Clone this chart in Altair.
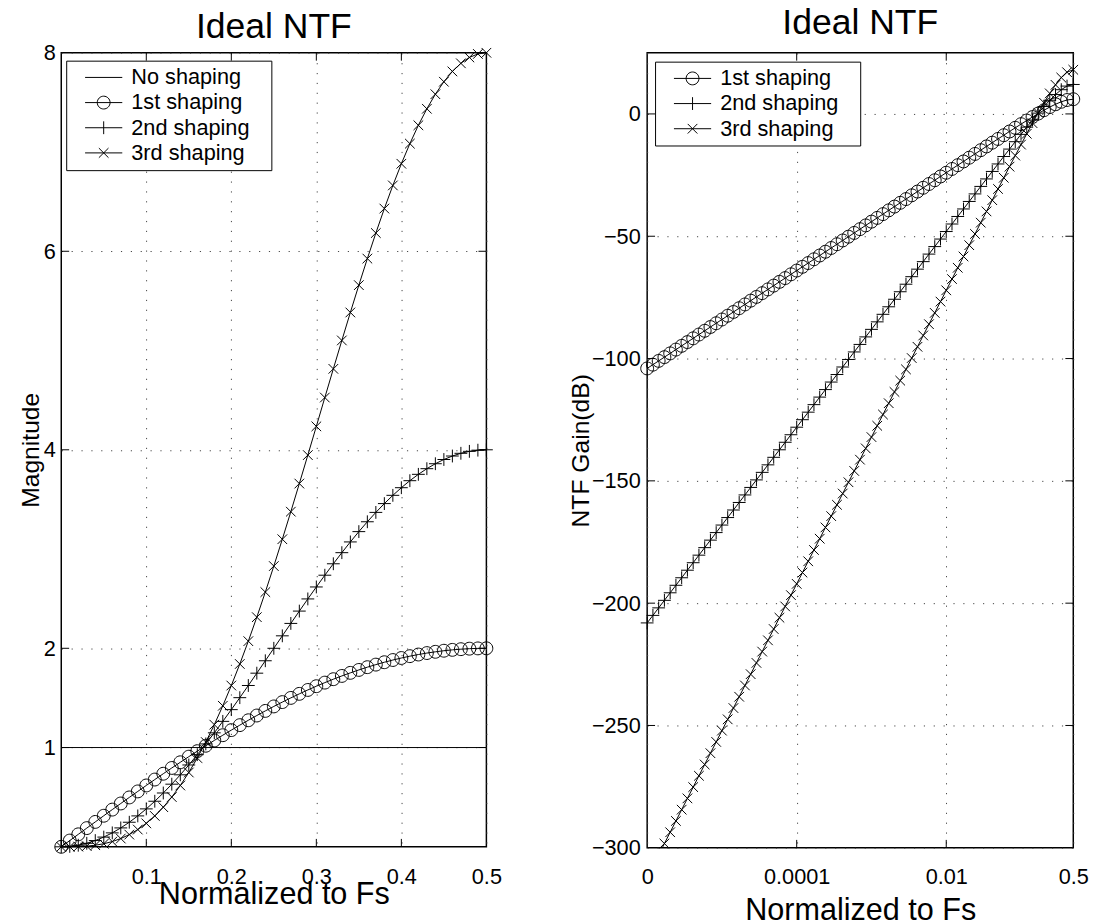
import altair as alt
import pandas as pd

FONT = "Liberation Sans"

SERIES = ["No shaping", "1st shaping", "2nd shaping", "3rd shaping"]

# ---------------- left panel: magnitude vs normalized frequency ----------------
F_LIN = [0.00, 0.01, 0.02, 0.03, 0.04, 0.05, 0.06, 0.07, 0.08, 0.09,
         0.10, 0.11, 0.12, 0.13, 0.14, 0.15, 0.16, 0.17, 0.18, 0.19,
         0.20, 0.21, 0.22, 0.23, 0.24, 0.25, 0.26, 0.27, 0.28, 0.29,
         0.30, 0.31, 0.32, 0.33, 0.34, 0.35, 0.36, 0.37, 0.38, 0.39,
         0.40, 0.41, 0.42, 0.43, 0.44, 0.45, 0.46, 0.47, 0.48, 0.49, 0.50]
NO_SHAPING_F = [0.0, 0.5]
NO_SHAPING = [1.0, 1.0]
MAG1 = [0.0, 0.0628, 0.1256, 0.1882, 0.2507, 0.3129, 0.3748, 0.4363, 0.4974, 0.5580,
        0.6180, 0.6775, 0.7362, 0.7943, 0.8516, 0.9080, 0.9635, 1.0181, 1.0717, 1.1242,
        1.1756, 1.2258, 1.2748, 1.3226, 1.3691, 1.4142, 1.4579, 1.5002, 1.5410, 1.5803,
        1.6180, 1.6542, 1.6887, 1.7215, 1.7526, 1.7820, 1.8097, 1.8355, 1.8596, 1.8818,
        1.9021, 1.9206, 1.9372, 1.9518, 1.9646, 1.9754, 1.9842, 1.9911, 1.9961, 1.9990, 2.0]
MAG2 = [0.0, 0.0039, 0.0158, 0.0354, 0.0628, 0.0979, 0.1404, 0.1903, 0.2474, 0.3113,
        0.3820, 0.4590, 0.5421, 0.6309, 0.7252, 0.8244, 0.9283, 1.0365, 1.1484, 1.2637,
        1.3820, 1.5026, 1.6252, 1.7493, 1.8744, 2.0000, 2.1256, 2.2507, 2.3748, 2.4974,
        2.6180, 2.7363, 2.8516, 2.9635, 3.0717, 3.1756, 3.2748, 3.3691, 3.4579, 3.5410,
        3.6180, 3.6887, 3.7526, 3.8097, 3.8596, 3.9021, 3.9372, 3.9646, 3.9842, 3.9961, 4.0]
MAG3 = [0.0, 0.0002, 0.0020, 0.0067, 0.0158, 0.0306, 0.0526, 0.0830, 0.1231, 0.1737,
        0.2361, 0.3110, 0.3991, 0.5011, 0.6176, 0.7486, 0.8944, 1.0553, 1.2307, 1.4207,
        1.6247, 1.8419, 2.0718, 2.3136, 2.5662, 2.8284, 3.0989, 3.3765, 3.6596, 3.9466,
        4.2360, 4.5264, 4.8155, 5.1017, 5.3835, 5.6589, 5.9264, 6.1840, 6.4303, 6.6635,
        6.8818, 7.0845, 7.2695, 7.4358, 7.5826, 7.7082, 7.8122, 7.8939, 7.9529, 7.9882, 8.0]

MAG_TICKS_X = [0.1, 0.2, 0.3, 0.4, 0.5]
MAG_TICKS_Y = [1, 2, 4, 6, 8]

# ---------------- right panel: gain in dB vs log frequency ----------------
F_LOG = [1.000e-6, 1.194e-6, 1.425e-6, 1.701e-6, 2.031e-6, 2.424e-6, 2.894e-6, 3.455e-6, 4.125e-6, 4.924e-6, 5.878e-6, 7.017e-6, 8.377e-6,
         1.000e-5, 1.194e-5, 1.425e-5, 1.701e-5, 2.031e-5, 2.424e-5, 2.894e-5, 3.455e-5, 4.125e-5, 4.924e-5, 5.878e-5, 7.017e-5, 8.377e-5,
         1.000e-4, 1.194e-4, 1.425e-4, 1.701e-4, 2.031e-4, 2.424e-4, 2.894e-4, 3.455e-4, 4.125e-4, 4.924e-4, 5.878e-4, 7.017e-4, 8.377e-4,
         1.000e-3, 1.194e-3, 1.425e-3, 1.701e-3, 2.031e-3, 2.424e-3, 2.894e-3, 3.455e-3, 4.125e-3, 4.924e-3, 5.878e-3, 7.017e-3, 8.377e-3,
         1.000e-2, 1.194e-2, 1.425e-2, 1.701e-2, 2.031e-2, 2.424e-2, 2.894e-2, 3.455e-2, 4.125e-2, 4.924e-2, 5.878e-2, 7.017e-2, 8.377e-2,
         1.000e-1, 1.194e-1, 1.425e-1, 1.701e-1, 2.031e-1, 2.424e-1, 2.894e-1, 3.455e-1, 4.125e-1,
         5.000e-1]
DB1 = [-104.04, -102.50, -100.96, -99.42, -97.88, -96.34, -94.81, -93.27, -91.73, -90.19, -88.65, -87.11, -85.57,
       -84.04, -82.50, -80.96, -79.42, -77.88, -76.34, -74.81, -73.27, -71.73, -70.19, -68.65, -67.11, -65.57,
       -64.04, -62.50, -60.96, -59.42, -57.88, -56.34, -54.81, -53.27, -51.73, -50.19, -48.65, -47.11, -45.57,
       -44.04, -42.50, -40.96, -39.42, -37.88, -36.34, -34.81, -33.27, -31.73, -30.19, -28.65, -27.11, -25.57,
       -24.04, -22.50, -20.96, -19.43, -17.89, -16.35, -14.82, -13.28, -11.75, -10.22, -8.70, -7.18, -5.67,
       -4.18, -2.70, -1.25, 0.16, 1.52, 2.80, 3.96, 4.96, 5.69,
       6.02]
DB2 = [-208.07, -205.00, -201.92, -198.84, -195.76, -192.69, -189.61, -186.53, -183.46, -180.38, -177.30, -174.23, -171.15,
       -168.07, -165.00, -161.92, -158.84, -155.76, -152.69, -149.61, -146.53, -143.46, -140.38, -137.30, -134.23, -131.15,
       -128.07, -125.00, -121.92, -118.84, -115.76, -112.69, -109.61, -106.53, -103.46, -100.38, -97.30, -94.23, -91.15,
       -88.07, -85.00, -81.92, -78.84, -75.76, -72.69, -69.61, -66.53, -63.46, -60.38, -57.30, -54.23, -51.15,
       -48.08, -45.00, -41.92, -38.85, -35.78, -32.70, -29.63, -26.57, -23.51, -20.45, -17.40, -14.37, -11.35,
       -8.36, -5.41, -2.50, 0.32, 3.04, 5.60, 7.93, 9.91, 11.38,
       12.04]
DB3 = [-312.11, -307.49, -302.88, -298.26, -293.65, -289.03, -284.42, -279.80, -275.19, -270.57, -265.95, -261.34, -256.72,
       -252.11, -247.49, -242.88, -238.26, -233.65, -229.03, -224.42, -219.80, -215.19, -210.57, -205.95, -201.34, -196.72,
       -192.11, -187.49, -182.88, -178.26, -173.65, -169.03, -164.42, -159.80, -155.19, -150.57, -145.95, -141.34, -136.72,
       -132.11, -127.49, -122.88, -118.26, -113.65, -109.03, -104.42, -99.80, -95.19, -90.57, -85.95, -81.34, -76.72,
       -72.11, -67.50, -62.89, -58.27, -53.66, -49.06, -44.45, -39.85, -35.26, -30.67, -26.10, -21.55, -17.02,
       -12.54, -8.11, -3.76, 0.48, 4.56, 8.40, 11.89, 14.86, 17.06,
       18.06]

DB_TICKS_X = [1e-6, 1e-4, 1e-2, 0.5]
DB_TICKS_Y = [-300, -250, -200, -150, -100, -50, 0]

# ---------------- marker / legend symbol paths ----------------
MARK_PATHS = ["M1,0A1,1 0 1,1 -1,0A1,1 0 1,1 1,0Z",
              "M-1,0H1M0,-1V1",
              "M-0.75,-0.75L0.75,0.75M-0.75,0.75L0.75,-0.75"]
LEG_LINE = "M-2.9,0H2.9"
LEG_PATHS = [LEG_LINE,
             LEG_LINE + "M1,0A1,1 0 1,1 -1,0A1,1 0 1,1 1,0",
             LEG_LINE + "M0,-1V1",
             LEG_LINE + "M-0.75,-0.75L0.75,0.75M-0.75,0.75L0.75,-0.75"]

GRID = dict(grid=True, gridColor="#444", gridDash=[1.2, 8.8], gridWidth=1, gridOpacity=1,
            ticks=False, domain=False, labelFlush=False, labelOverlap=False,
            labelFont=FONT, labelFontSize=22, labelColor="black",
            titleFont=FONT, titleFontWeight="normal", titleColor="black")


def legend(lx, ly):
    return alt.Legend(orient="none", legendX=lx, legendY=ly, title=None,
                      fillColor="white", strokeColor="black", padding=6,
                      symbolSize=169, symbolStrokeWidth=1, symbolStrokeColor="black",
                      symbolFillColor="transparent", symbolOpacity=1,
                      symbolOffset=21, labelOffset=17, rowPadding=3.5,
                      labelFont=FONT, labelFontSize=22, labelColor="black",
                      labelLimit=400, labelExpr="datum.label + '\u2800'")


def tick_layers(xs, ys, xscale, yscale, axx, axy, w, h):
    # inward tick marks on all four sides (same scales and axes as the data layers)
    dx = pd.DataFrame({"f": xs})
    dy = pd.DataFrame({"v": ys})
    bx = alt.X("f:Q", scale=xscale, axis=axx)
    by = alt.Y("v:Q", scale=yscale, axis=axy)
    top = alt.Chart(dx).mark_rule(color="black", strokeWidth=1).encode(
        x=bx, y=alt.value(0), y2=alt.value(8))
    bot = alt.Chart(dx).mark_rule(color="black", strokeWidth=1).encode(
        x=bx, y=alt.value(h), y2=alt.value(h - 8))
    lft = alt.Chart(dy).mark_rule(color="black", strokeWidth=1).encode(
        y=by, x=alt.value(0), x2=alt.value(8))
    rgt = alt.Chart(dy).mark_rule(color="black", strokeWidth=1).encode(
        y=by, x=alt.value(w), x2=alt.value(w - 8))
    return [top, bot, lft, rgt]


def title(offset):
    return alt.TitleParams(text="Ideal NTF", font=FONT, fontSize=36, fontWeight="normal",
                           color="black", offset=offset, baseline="alphabetic",
                           anchor="middle", frame="group")


# ---------------- build left panel ----------------
rows = [{"f": f, "v": v, "s": "No shaping"} for f, v in zip(NO_SHAPING_F, NO_SHAPING)]
for name, vals in zip(SERIES[1:], [MAG1, MAG2, MAG3]):
    rows += [{"f": f, "v": v, "s": name} for f, v in zip(F_LIN, vals)]
df_l = pd.DataFrame(rows)

WL, HL = 431, 805
xl = alt.Scale(domain=[0, 0.5], nice=False, zero=False)
yl = alt.Scale(domain=[0, 8], nice=False, zero=False)
ax_xl = alt.Axis(values=MAG_TICKS_X, title="Normalized to Fs", labelPadding=37, titleFontSize=31,
                 labelBaseline="alphabetic", titleY=57, titleBaseline="alphabetic", **GRID)
ax_yl = alt.Axis(values=MAG_TICKS_Y, title="Magnitude", labelPadding=6, titleX=-23, titleFontSize=25,
                 titleY=HL / 2, titleBaseline="alphabetic", **GRID)

lines_l = alt.Chart(df_l).mark_line(color="black", strokeWidth=1).encode(
    x=alt.X("f:Q", scale=xl, axis=ax_xl),
    y=alt.Y("v:Q", scale=yl, axis=ax_yl),
    detail="s:N")
pts_l = alt.Chart(df_l).transform_filter(alt.datum.s != "No shaping").mark_point(
    filled=False, color="black", size=169, strokeWidth=1, opacity=1).encode(
    x=alt.X("f:Q", scale=xl, axis=ax_xl), y=alt.Y("v:Q", scale=yl, axis=ax_yl),
    shape=alt.Shape("s:N", scale=alt.Scale(domain=SERIES[1:], range=MARK_PATHS), legend=None))
leg_l = alt.Chart(df_l).mark_point(opacity=0, size=169).encode(
    x=alt.X("f:Q", scale=xl, axis=ax_xl), y=alt.Y("v:Q", scale=yl, axis=ax_yl),
    shape=alt.Shape("s:N", scale=alt.Scale(domain=SERIES, range=LEG_PATHS), legend=legend(5, 8)))

left = alt.layer(lines_l, pts_l, leg_l,
                 *tick_layers(MAG_TICKS_X[:-1], MAG_TICKS_Y[:-1], xl, yl, ax_xl, ax_yl, WL, HL)).resolve_scale(
    shape="independent").properties(width=WL, height=HL, title=title(-32))

# ---------------- build right panel ----------------
rows = []
for name, vals in zip(SERIES[1:], [DB1, DB2, DB3]):
    rows += [{"f": f, "v": v, "s": name} for f, v in zip(F_LOG, vals)]
df_r = pd.DataFrame(rows)

WR, HR = 432, 806
xr = alt.Scale(type="log", domain=[1e-6, 0.5], nice=False)
yr = alt.Scale(domain=[-300, 25], nice=False, zero=False)
ax_xr = alt.Axis(values=DB_TICKS_X, title="Normalized to Fs", labelPadding=36, titleFontSize=31,
                 labelBaseline="alphabetic", titleY=73, titleBaseline="alphabetic",
                 labelExpr="datum.value < 1e-5 ? '0' : datum.value < 1e-3 ? '0.0001' : datum.value < 0.1 ? '0.01' : '0.5'",
                 **GRID)
ax_yr = alt.Axis(values=DB_TICKS_Y, title="NTF Gain(dB)", labelPadding=7, titleX=-59, titleFontSize=25,
                 titleY=HR / 2, titleBaseline="alphabetic", **GRID)

lines_r = alt.Chart(df_r).mark_line(color="black", strokeWidth=1, clip=True).encode(
    x=alt.X("f:Q", scale=xr, axis=ax_xr),
    y=alt.Y("v:Q", scale=yr, axis=ax_yr),
    detail="s:N")
pts_r = alt.Chart(df_r).transform_filter(alt.datum.v >= -300).mark_point(
    filled=False, color="black", size=169, strokeWidth=1, opacity=1).encode(
    x=alt.X("f:Q", scale=xr, axis=ax_xr), y=alt.Y("v:Q", scale=yr, axis=ax_yr),
    shape=alt.Shape("s:N", scale=alt.Scale(domain=SERIES[1:], range=MARK_PATHS), legend=None))
leg_r = alt.Chart(df_r).transform_filter(alt.datum.v >= -300).mark_point(opacity=0, size=169).encode(
    x=alt.X("f:Q", scale=xr, axis=ax_xr), y=alt.Y("v:Q", scale=yr, axis=ax_yr),
    shape=alt.Shape("s:N", scale=alt.Scale(domain=SERIES[1:], range=LEG_PATHS[1:]), legend=legend(8, 9)))

right = alt.layer(lines_r, pts_r, leg_r,
                  *tick_layers(DB_TICKS_X[1:-1], DB_TICKS_Y[1:], xr, yr, ax_xr, ax_yr, WR, HR)).resolve_scale(
    shape="independent").properties(width=WR, height=HR, title=title(-17.5))

chart = alt.hconcat(left, right, spacing=163, bounds="flush",
                    padding={"left": 10, "top": -10, "right": 0, "bottom": 0},
                    background="white").configure_view(stroke="black", strokeWidth=1.5)

chart.save("out.html", embed_options={"renderer": "svg", "actions": False})
